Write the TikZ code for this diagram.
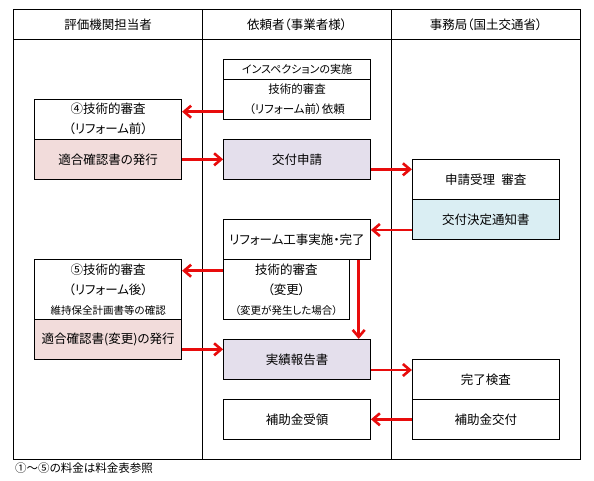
\documentclass[tikz,border=0pt]{standalone}
\usepackage{fontspec}
\setmainfont{Noto Sans CJK JP}[RawFeature=+palt]
\usetikzlibrary{arrows.meta}
\definecolor{pinkfill}{RGB}{242,220,219}
\definecolor{lavfill}{RGB}{228,223,236}
\definecolor{bluefill}{RGB}{218,238,243}
\definecolor{arrred}{RGB}{232,12,12}
\newcommand\myfs[1]{\fontsize{#1}{20}\selectfont}
\begin{document}
\begin{tikzpicture}[x=1pt,y=-1pt,
  lane/.style={draw=black,line width=0.8pt},
  hdr/.style={font=\myfs{12.5},inner sep=0pt},
  box/.style={draw=black,line width=0.8pt,minimum width=147pt,minimum height=40pt,inner sep=0pt,align=center,font=\myfs{12.5}},
  pinkbox/.style={box,fill=pinkfill},
  lavbox/.style={box,fill=lavfill},
  bluebox/.style={box,fill=bluefill},
  arr/.style={draw=arrred,line width=2.6pt,-{Straight Barb[length=7pt,width=12pt]}},
  note/.style={font=\myfs{11.5},inner sep=0pt,anchor=west}]
\useasboundingbox (0,0) rectangle (594,480);
\fill[white] (0,0) rectangle (594,480);
% swimlanes
\draw[lane] (13.5,9.5) rectangle (580,459.3);
\draw[lane] (13.5,39.5) -- (580,39.5);
\draw[lane] (202.5,9.5) -- (202.5,459.3);
\draw[lane] (391.7,9.5) -- (391.7,459.3);
\node[hdr] (h1) at (108,24.5) {評価機関担当者};
\node[hdr] (h2) at (297,24.5) {依頼者（事業者様）};
\node[hdr] (h3) at (486,24.5) {事務局（国土交通省）};
% left column
\node[box] (a4top) at (108.2,119.3) {④技術的審査\\（リフォーム前）};
\node[pinkbox] (a4bot) at (108.2,159.3) {適合確認書の発行};
\node[box,minimum height=60pt] (a5top) at (108.2,289.3) {⑤技術的審査\\（リフォーム後）\\{\myfs{10.5}維持保全計画書等の確認}};
\node[pinkbox] (a5bot) at (108.2,339.3) {適合確認書(変更)の発行};
% middle column
\node[box,minimum height=20pt,font=\myfs{11}] (insTop) at (297,69.3) {インスペクションの実施};
\node[box,font=\myfs{11.5}] (insBot) at (297,99.3) {技術的審査\\（リフォーム前）依頼};
\node[lavbox] (apply) at (297,159.3) {交付申請};
\node[box] (work) at (297,239.3) {リフォーム工事実施・完了};
\node[box,minimum width=126pt,minimum height=60pt] (chg) at (286.3,289.3) {技術的審査\\（変更）\\{\myfs{10.5}（変更が発生した場合）}};
\node[lavbox] (report) at (297,359.3) {実績報告書};
\node[box] (receive) at (297,419.3) {補助金受領};
% right column
\node[box] (recv) at (485.8,179.3) {申請受理\hspace{0.5em}審査};
\node[bluebox] (notice) at (485.8,219.3) {交付決定通知書};
\node[box] (insp) at (485.8,379.3) {完了検査};
\node[box] (pay) at (485.8,419.3) {補助金交付};
% footnote
\node[note] (fn) at (15,468) {①～⑤の料金は料金表参照};
% arrows
\draw[arr] ([yshift=-12.4pt]insBot.west) -- ([yshift=-12.4pt]insBot.west -| a4top.east);
\draw[arr] (a4bot.east) -- (a4bot.east -| apply.west);
\draw[arr] ([yshift=-10pt]apply.east) -- ([yshift=-10pt]apply.east -| recv.west);
\draw[arr] ([yshift=-10.7pt]notice.west) -- ([yshift=-10.7pt]notice.west -| work.east);
\draw[arr] ([yshift=18.6pt]chg.west) -- ([yshift=18.6pt]chg.west -| a5top.east);
\draw[arr] ([xshift=61.7pt]work.south) -- ([xshift=61.7pt]work.south |- report.north);
\draw[arr] ([yshift=-10pt]a5bot.east) -- ([yshift=-10pt]a5bot.east -| report.west);
\draw[arr] ([yshift=-10.7pt]report.east) -- ([yshift=-10.7pt]report.east -| insp.west);
\draw[arr] (pay.west) -- (pay.west -| receive.east);
\end{tikzpicture}
\end{document}
